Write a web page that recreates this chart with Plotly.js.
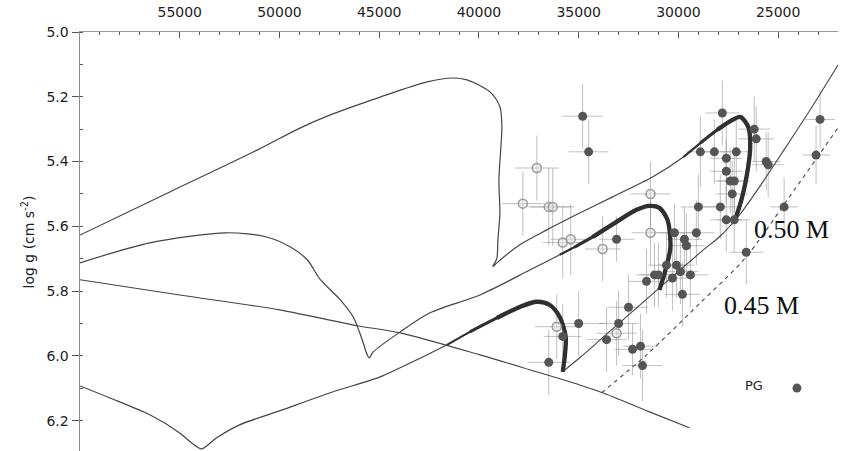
<!DOCTYPE html>
<html>
<head>
<meta charset="utf-8">
<script src="https://cdn.plot.ly/plotly-3.0.1.min.js"></script>
<style>
  html, body { margin: 0; padding: 0; overflow: hidden; background: #ffffff; }
  #chart { width: 843px; height: 454px; }
</style>
</head>
<body>
<div id="chart"></div>
<script>
// ---- Evolutionary tracks in the Teff (K) / log g plane ----
// Upper track: hot loop, hook near 39 kK, then the 0.50 M loop
const trackUpperTeff = [60000, 55500, 51100, 48950, 47450, 44950, 42600, 41300, 40600, 39450, 38950, 38850, 38900, 39000, 38950, 39050, 39100, 39300, 39100, 37950, 36600, 34950, 33300, 31300, 29750, 28900, 28050, 27400, 26900, 26500, 26400, 26550, 26800, 27150];
const trackUpperLogg = [5.627, 5.494, 5.364, 5.296, 5.256, 5.201, 5.154, 5.142, 5.148, 5.185, 5.231, 5.293, 5.355, 5.457, 5.559, 5.642, 5.698, 5.725, 5.713, 5.657, 5.611, 5.559, 5.509, 5.448, 5.386, 5.343, 5.302, 5.275, 5.262, 5.293, 5.355, 5.435, 5.509, 5.580];

// Middle track
const trackMiddleTeff = [60000, 56500, 52650, 50650, 49450, 48600, 47950, 46950, 46300, 45850, 45600, 45500, 45300, 43950, 42450, 39950, 37450, 35950, 35200, 34300, 33200, 32100, 31450, 30950, 30550, 30400, 30650, 30950];
const trackMiddleLogg = [5.713, 5.651, 5.620, 5.633, 5.664, 5.704, 5.765, 5.827, 5.880, 5.951, 5.997, 6.006, 5.988, 5.926, 5.867, 5.812, 5.735, 5.688, 5.664, 5.633, 5.590, 5.549, 5.537, 5.543, 5.580, 5.664, 5.735, 5.796];

// Lower track
const trackLowerTeff = [60000, 58500, 56500, 55000, 54400, 53900, 53150, 52000, 50000, 47450, 44950, 43950, 41600, 40450, 39100, 37950, 37100, 36450, 35950, 35650, 35700, 35800];
const trackLowerLogg = [6.093, 6.130, 6.182, 6.238, 6.269, 6.287, 6.253, 6.213, 6.170, 6.114, 6.065, 6.037, 5.966, 5.926, 5.883, 5.849, 5.833, 5.843, 5.880, 5.941, 6.003, 6.049];

// Long sloping line across the diagram
const slopeLineTeff = [60000, 55000, 50000, 46100, 43950, 39950, 37450, 34950, 33800, 31450, 29450];
const slopeLineLogg = [5.765, 5.812, 5.858, 5.907, 5.929, 5.997, 6.043, 6.090, 6.114, 6.173, 6.222];

// Line through the ends of the loops
const loopEndLineTeff = [35800, 34950, 33800, 30950, 28750, 27900, 26900, 25900, 24800, 23400, 22000];
const loopEndLineLogg = [6.049, 6.006, 5.944, 5.790, 5.673, 5.630, 5.562, 5.475, 5.373, 5.241, 5.102];

// 0.45 M line (dashed)
const dashedTeff = [33850, 31600, 28900, 26650, 24400, 22000];
const dashedLogg = [6.114, 5.997, 5.836, 5.698, 5.506, 5.296];

// ---- Observed stars ----
// PG sample (filled)
const pgTeff = [34800, 34500, 33100, 27800, 22900, 26200, 26100, 28900, 28200, 27100, 27600, 25600, 25500, 23100, 27600, 27400, 27200, 27300, 29000, 27900, 24700, 27600, 27200, 30200, 29700, 29600, 29100, 26600, 30600, 30100, 29900, 29400, 31200, 31000, 31600, 30300, 29800, 32500, 33000, 35000, 33600, 32300, 31900, 31800, 35800, 36500];
const pgLogg = [5.26, 5.37, 5.64, 5.25, 5.27, 5.30, 5.33, 5.37, 5.37, 5.37, 5.39, 5.40, 5.41, 5.38, 5.43, 5.46, 5.46, 5.50, 5.54, 5.54, 5.54, 5.58, 5.58, 5.62, 5.64, 5.66, 5.62, 5.68, 5.72, 5.72, 5.74, 5.75, 5.75, 5.75, 5.77, 5.76, 5.81, 5.85, 5.90, 5.90, 5.95, 5.98, 5.97, 6.03, 5.94, 6.02];
const pgTeffErr = [1000, 1000, 900, 850, 750, 800, 900, 700, 800, 800, 800, 700, 800, 700, 800, 800, 800, 800, 900, 900, 700, 800, 800, 900, 900, 900, 900, 850, 900, 900, 900, 900, 900, 900, 900, 900, 900, 1000, 1000, 1300, 1000, 900, 900, 1000, 950, 1050];
const pgLoggErr = [0.10, 0.10, 0.07, 0.10, 0.09, 0.10, 0.10, 0.11, 0.10, 0.10, 0.10, 0.09, 0.10, 0.09, 0.10, 0.10, 0.10, 0.10, 0.10, 0.10, 0.09, 0.10, 0.10, 0.09, 0.10, 0.10, 0.10, 0.10, 0.10, 0.10, 0.10, 0.10, 0.10, 0.10, 0.10, 0.10, 0.10, 0.10, 0.10, 0.10, 0.10, 0.08, 0.10, 0.11, 0.10, 0.10];

// Second sample (open)
const openTeff = [37100, 37800, 36500, 36300, 35400, 35800, 33800, 31400, 31400, 33100, 36100];
const openLogg = [5.42, 5.53, 5.54, 5.54, 5.64, 5.65, 5.67, 5.50, 5.62, 5.93, 5.91];
const openTeffErr = [1100, 1050, 1100, 1100, 1000, 1000, 900, 1000, 950, 1000, 1100];
const openLoggErr = [0.10, 0.10, 0.12, 0.12, 0.11, 0.11, 0.10, 0.10, 0.10, 0.10, 0.10];

// Axis ticks
const teffTicks = [55000, 50000, 45000, 40000, 35000, 30000, 25000];
const loggTicks = [5.0, 5.2, 5.4, 5.6, 5.8, 6.0, 6.2];

const label050 = '0.50 M';
const label045 = '0.45 M';
const pgLabel = 'PG';
const yTitle = 'log g (cm s<sup>-2</sup>)';

// ---- Styles ----
const thinColor = '#444444';
const thickColor = '#303030';
const errColor = 'rgba(140,140,140,0.55)';
const tickFont = { family: 'DejaVu Sans, Verdana, sans-serif', size: 14, color: '#222222' };
// Loops are drawn with a taper: [first index, line width] per stage
const upperTaper = [[24, 2.2], [25, 3.2], [26, 4.3]];
const middleTaper = [[17, 2.2], [18, 3.2], [19, 4.3]];
const lowerTaper = [[12, 2.0], [13, 3.0], [14, 4.3]];

function errTrace(x, y, ex, ey) {
  return {
    x: x, y: y, type: 'scatter', mode: 'markers',
    marker: { size: 1, color: 'rgba(0,0,0,0)' },
    error_x: { type: 'data', array: ex, visible: true, color: errColor, thickness: 1, width: 0 },
    error_y: { type: 'data', array: ey, visible: true, color: errColor, thickness: 1, width: 0 },
    showlegend: false, hoverinfo: 'skip'
  };
}
function lineTrace(x, y, width, color, dash) {
  return {
    x: x, y: y, type: 'scatter', mode: 'lines',
    line: { color: color, width: width, shape: 'spline', smoothing: 0.8, dash: dash || 'solid' },
    showlegend: false, hoverinfo: 'skip'
  };
}
function taperTraces(x, y, stages) {
  return stages.map(function (s) {
    return lineTrace(x.slice(s[0]), y.slice(s[0]), s[1], thickColor);
  });
}

const traces = [
  errTrace(openTeff, openLogg, openTeffErr, openLoggErr),
  errTrace(pgTeff, pgLogg, pgTeffErr, pgLoggErr),
  lineTrace(slopeLineTeff, slopeLineLogg, 1.1, thinColor),
  lineTrace(loopEndLineTeff, loopEndLineLogg, 1.1, thinColor),
  lineTrace(dashedTeff, dashedLogg, 1.1, thinColor, '4px,4px'),
  lineTrace(trackUpperTeff, trackUpperLogg, 1.2, thinColor),
  lineTrace(trackMiddleTeff, trackMiddleLogg, 1.2, thinColor),
  lineTrace(trackLowerTeff, trackLowerLogg, 1.2, thinColor)
].concat(
  taperTraces(trackUpperTeff, trackUpperLogg, upperTaper),
  taperTraces(trackMiddleTeff, trackMiddleLogg, middleTaper),
  taperTraces(trackLowerTeff, trackLowerLogg, lowerTaper),
  [
    {
      x: openTeff, y: openLogg, type: 'scatter', mode: 'markers',
      marker: { size: 9, color: 'rgba(225,225,225,0.5)', line: { color: '#999999', width: 1.5 } },
      showlegend: false, hoverinfo: 'x+y'
    },
    {
      x: pgTeff, y: pgLogg, type: 'scatter', mode: 'markers', name: '',
      marker: { size: 9, color: '#555555' },
      showlegend: true, hoverinfo: 'x+y'
    }
  ]
);

const xRange = [60000, 22000];
const yRange = [6.3, 5.0];

const layout = {
  width: 843, height: 454,
  margin: { l: 80, r: 5, t: 32, b: 1, pad: 0 },
  paper_bgcolor: '#ffffff', plot_bgcolor: '#ffffff',
  showlegend: true,
  legend: {
    x: 0.8747, y: 0.154, xanchor: 'left', yanchor: 'middle',
    indentation: 6,
    bgcolor: 'rgba(0,0,0,0)', borderwidth: 0,
    title: { text: pgLabel, side: 'left', font: { family: 'DejaVu Sans, sans-serif', size: 13, color: '#222222' } },
    font: { family: 'DejaVu Sans, sans-serif', size: 13, color: '#222222' }
  },
  xaxis: {
    side: 'top', range: xRange, anchor: 'y',
    tickmode: 'array', tickvals: teffTicks, ticktext: teffTicks.map(String),
    ticks: 'inside', ticklen: 6, tickcolor: '#555', tickwidth: 1, ticklabelstandoff: 8,
    minor: { tick0: 0, dtick: 1000, ticks: 'inside', ticklen: 3, tickcolor: '#555', showgrid: false },
    showline: true, linecolor: '#999999', linewidth: 1,
    showgrid: false, zeroline: false, tickfont: tickFont
  },
  xaxis2: {
    overlaying: 'x', side: 'bottom', range: xRange, anchor: 'y',
    tickmode: 'array', tickvals: teffTicks, ticks: 'inside', ticklen: 5, tickcolor: '#555',
    minor: { tick0: 0, dtick: 1000, ticks: 'inside', ticklen: 3, tickcolor: '#555', showgrid: false },
    showline: true, linecolor: '#999999', showticklabels: false, showgrid: false, zeroline: false
  },
  yaxis: {
    range: yRange, anchor: 'x', side: 'left',
    tickmode: 'array', tickvals: loggTicks, ticktext: loggTicks.map(function (v) { return v.toFixed(1); }),
    ticks: 'outside', ticklen: 7, tickcolor: '#555',
    minor: { tick0: 5.0, dtick: 0.1, ticks: 'inside', ticklen: 3, tickcolor: '#555', showgrid: false },
    showline: true, linecolor: '#8a8a8a', linewidth: 1.5,
    showgrid: false, zeroline: false, tickfont: tickFont
  },
  yaxis2: {
    overlaying: 'y', side: 'left', range: yRange, anchor: 'x',
    tickmode: 'array', tickvals: loggTicks, ticks: 'inside', ticklen: 7, tickcolor: '#555',
    showline: false, showticklabels: false, showgrid: false, zeroline: false
  },
  yaxis3: {
    overlaying: 'y', side: 'right', range: yRange, anchor: 'x',
    tickmode: 'array', tickvals: loggTicks, ticks: 'inside', ticklen: 7, tickcolor: '#444',
    minor: { tick0: 5.0, dtick: 0.1, ticks: 'inside', ticklen: 4, tickcolor: '#444', showgrid: false },
    showline: true, linecolor: '#444444', linewidth: 1.2,
    showticklabels: false, showgrid: false, zeroline: false
  },
  annotations: [
    { text: yTitle, xref: 'paper', yref: 'paper', x: -0.0686, y: 0.5, xanchor: 'center', yanchor: 'middle',
      textangle: -90, showarrow: false, font: { family: 'DejaVu Sans, sans-serif', size: 14, color: '#222222' } },
    { text: label050, xref: 'paper', yref: 'paper', x: 0.8865, y: 0.53, xanchor: 'left', yanchor: 'middle',
      showarrow: false, font: { family: 'Liberation Serif, Times New Roman, serif', size: 26, color: '#111111' } },
    { text: label045, xref: 'paper', yref: 'paper', x: 0.847, y: 0.35, xanchor: 'left', yanchor: 'middle',
      showarrow: false, font: { family: 'Liberation Serif, Times New Roman, serif', size: 26, color: '#111111' } }
  ]
};

Plotly.newPlot('chart', traces, layout, { staticPlot: true, displayModeBar: false });
</script>
</body>
</html>
